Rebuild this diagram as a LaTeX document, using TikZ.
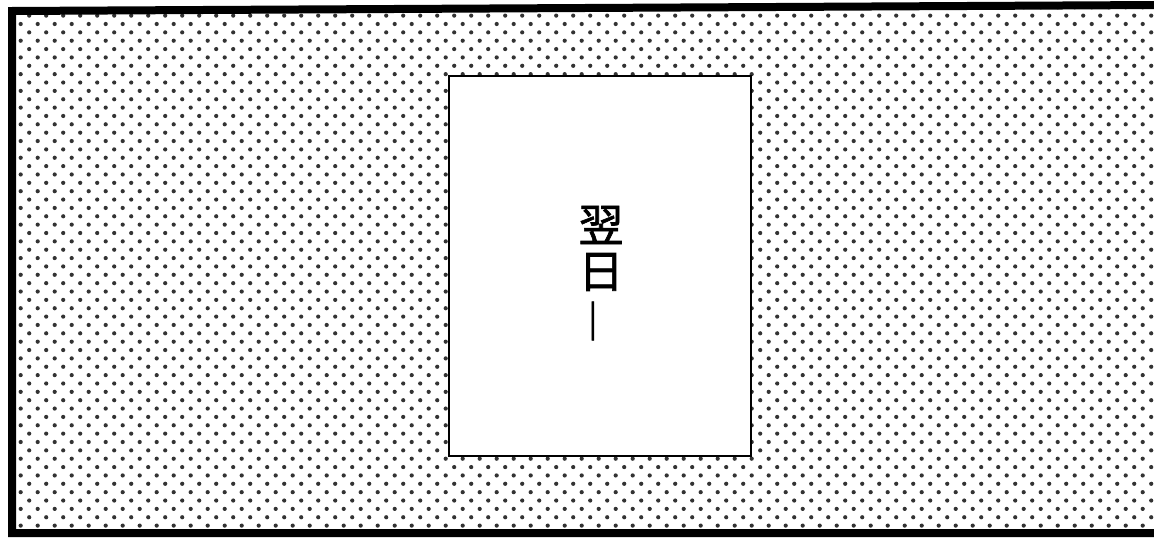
\documentclass[tikz,border=0pt]{standalone}
\usepackage{fontspec}
\newfontfamily\cjk[FakeBold=1.5]{Noto Sans CJK JP}
\tikzset{
  frameline/.style={line width=8pt, line join=miter},
  tonedot/.style={fill=black!80},
  panelbox/.style={draw, line width=2pt, fill=white, anchor=north west, minimum width=302pt, minimum height=380pt, inner sep=0pt},
  vtext/.style={font=\cjk\fontsize{45}{50}\selectfont, inner sep=0pt}
}
\begin{document}
\begin{tikzpicture}[x=1pt,y=-1pt]
\useasboundingbox (0,0) rectangle (1154,538);
\fill[white] (0,0) rectangle (1154,538);
\begin{scope}
  \clip (12,11) -- (1154,5) -- (1154,533) -- (12,533) -- cycle;
  \foreach \r in {0,...,64}{
    \pgfmathsetmacro{\yy}{7.28+8.36*\r}
    \pgfmathsetmacro{\xo}{3.7+8.5*mod(\r,2)}
    \foreach \j in {0,...,68}{
      \fill[tonedot] ({\xo+17*\j},\yy) circle[radius=2.1pt];
    }
  }
\end{scope}
\draw[frameline] (12,11) -- (1158,5) -- (1158,533) -- (12,533) -- cycle;
\node[panelbox] (box) at (448,75) {};
\node[vtext] (c1) at (601,225) {翌};
\node[vtext] (c2) at (601,272) {日};
\node[vtext, rotate=90] (c3) at (601,321) {―};
\end{tikzpicture}
\end{document}
